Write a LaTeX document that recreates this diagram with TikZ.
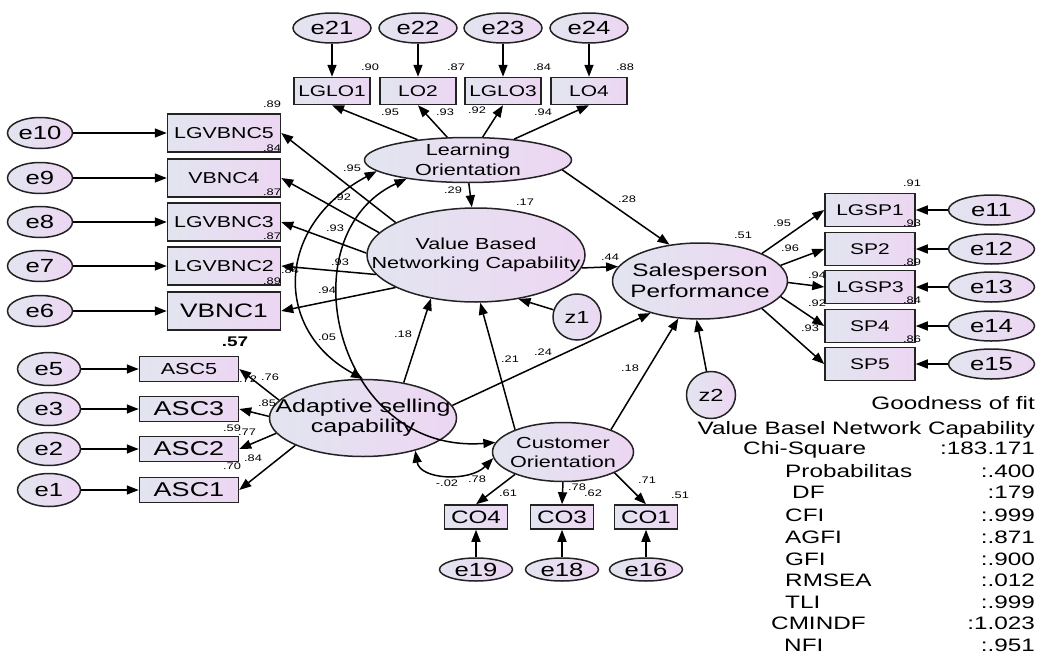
\documentclass[tikz,border=0pt]{standalone}
\usepackage{fontspec}
\setmainfont{Liberation Sans}[FakeStretch=1.35]
\usetikzlibrary{arrows.meta,shapes.geometric,positioning}
\definecolor{shadeLeft}{RGB}{226,229,239}
\definecolor{shadeRight}{RGB}{237,214,243}
\definecolor{edgeColor}{RGB}{35,35,35}
\newcommand{\fsz}[2]{\fontsize{#1}{#2}\selectfont}
\tikzset{
  latent/.style={ellipse, draw=edgeColor, line width=1.5pt, left color=shadeLeft, right color=shadeRight, inner sep=0pt},
  lattext/.style={align=center, inner sep=0pt},
  errterm/.style={ellipse, draw=edgeColor, line width=1.5pt, left color=shadeLeft, right color=shadeRight, inner sep=0pt, font=\fsz{19}{20}},
  observed/.style={rectangle, draw=edgeColor, line width=1.5pt, left color=shadeLeft, right color=shadeRight, inner sep=0pt, minimum width=76pt, minimum height=27pt, font=\fsz{15.5}{16}},
  link/.style={line width=1.5pt, ->},
  coef/.style={inner sep=0pt, font=\fsz{9.5}{10}},
  fittext/.style={inner sep=0pt, font=\fsz{18}{20}}
}

\begin{document}
\begin{tikzpicture}[x=1pt, y=-1pt, >={Triangle[length=12pt,width=9pt]}]

    \useasboundingbox (0,0) rectangle (1047,656);

    % Latent variables
    \node (lo) [latent, minimum width=207pt, minimum height=45pt] at (468,160) {};
    \node (vbnc) [latent, minimum width=218pt, minimum height=94pt] at (476,255) {};
    \node (sp) [latent, minimum width=175pt, minimum height=76pt] at (700,281) {};
    \node (asc) [latent, minimum width=187pt, minimum height=77pt] at (363,418) {};
    \node (co) [latent, minimum width=141pt, minimum height=59pt] at (563,452) {};
    \node (lotext) [lattext, font=\fsz{16}{20}] at (lo) {Learning\\Orientation};
    \node (vbnctext) [lattext, font=\fsz{16}{19}] at (vbnc) {Value Based\\Networking Capability};
    \node (sptext) [lattext, font=\fsz{18}{21}] at (sp) {Salesperson\\Performance};
    \node (asctext) [lattext, font=\fsz{18.5}{20}] at (asc) {Adaptive selling\\capability};
    \node (cotext) [lattext, font=\fsz{16}{19}] at (co) {Customer\\Orientation};
    \node (z1) [errterm, minimum width=48pt, minimum height=46pt, font=\fsz{17.5}{18}] at (577,317) {z1};
    \node (z2) [errterm, minimum width=49pt, minimum height=47pt, font=\fsz{17.5}{18}] at (711,395) {z2};

    % Learning orientation indicators
    \node (e21) [errterm, minimum width=78pt, minimum height=30pt] at (332,28) {e21};
    \node (e22) [errterm, minimum width=78pt, minimum height=30pt] at (418,28) {e22};
    \node (e23) [errterm, minimum width=78pt, minimum height=30pt] at (503,28) {e23};
    \node (e24) [errterm, minimum width=78pt, minimum height=30pt] at (589,28) {e24};
    \node (lglo1) [observed, below=33pt of e21] {LGLO1};
    \node (lo2) [observed, below=33pt of e22] {LO2};
    \node (lglo3) [observed, below=33pt of e23] {LGLO3};
    \node (lo4) [observed, below=33pt of e24] {LO4};

    % Networking capability indicators
    \node (e10) [errterm, minimum width=65pt, minimum height=31pt] at (40,133) {e10};
    \node (e9) [errterm, minimum width=65pt, minimum height=31pt] at (40,178) {e9};
    \node (e8) [errterm, minimum width=65pt, minimum height=31pt] at (40,222) {e8};
    \node (e7) [errterm, minimum width=65pt, minimum height=31pt] at (40,266) {e7};
    \node (e6) [errterm, minimum width=65pt, minimum height=31pt] at (40,311) {e6};
    \node (lgvbnc5) [observed, minimum width=113pt, minimum height=38pt, font=\fsz{15.8}{16}, right=93.5pt of e10] {LGVBNC5};
    \node (vbnc4) [observed, minimum width=113pt, minimum height=38pt, font=\fsz{15.8}{16}, right=93.5pt of e9] {VBNC4};
    \node (lgvbnc3) [observed, minimum width=113pt, minimum height=38pt, font=\fsz{15.8}{16}, right=93.5pt of e8] {LGVBNC3};
    \node (lgvbnc2) [observed, minimum width=113pt, minimum height=38pt, font=\fsz{15.8}{16}, right=93.5pt of e7] {LGVBNC2};
    \node (vbnc1) [observed, minimum width=113pt, minimum height=38pt, font=\fsz{19.5}{20}, right=93.5pt of e6] {VBNC1};

    % Adaptive selling indicators
    \node (e5) [errterm, minimum width=63pt, minimum height=33pt] at (49,369) {e5};
    \node (e3) [errterm, minimum width=63pt, minimum height=33pt] at (49,409) {e3};
    \node (e2) [errterm, minimum width=63pt, minimum height=33pt] at (49,449) {e2};
    \node (e1) [errterm, minimum width=63pt, minimum height=33pt] at (49,490) {e1};
    \node (asc5) [observed, minimum width=99pt, minimum height=25pt, font=\fsz{16}{16}, right=57.5pt of e5] {ASC5};
    \node (asc3) [observed, minimum width=99pt, minimum height=25pt, font=\fsz{20}{20}, right=57.5pt of e3] {ASC3};
    \node (asc2) [observed, minimum width=99pt, minimum height=25pt, font=\fsz{20}{20}, right=57.5pt of e2] {ASC2};
    \node (asc1) [observed, minimum width=99pt, minimum height=25pt, font=\fsz{20}{20}, right=57.5pt of e1] {ASC1};

    % Performance indicators
    \node (lgsp1) [observed, minimum width=90pt, minimum height=33pt] at (870,210) {LGSP1};
    \node (sp2) [observed, minimum width=90pt, minimum height=33pt] at (870,249) {SP2};
    \node (lgsp3) [observed, minimum width=90pt, minimum height=33pt] at (870,287) {LGSP3};
    \node (sp4) [observed, minimum width=90pt, minimum height=33pt] at (870,326) {SP4};
    \node (sp5) [observed, minimum width=90pt, minimum height=33pt] at (870,364) {SP5};
    \node (e11) [errterm, minimum width=86pt, minimum height=30pt, right=32pt of lgsp1] {e11};
    \node (e12) [errterm, minimum width=86pt, minimum height=30pt, right=32pt of sp2] {e12};
    \node (e13) [errterm, minimum width=86pt, minimum height=30pt, right=32pt of lgsp3] {e13};
    \node (e14) [errterm, minimum width=86pt, minimum height=30pt, right=32pt of sp4] {e14};
    \node (e15) [errterm, minimum width=86pt, minimum height=30pt, right=32pt of sp5] {e15};

    % Customer orientation indicators
    \node (co4) [observed, minimum width=63pt, minimum height=24pt, font=\fsz{18}{18}] at (476,517) {CO4};
    \node (co3) [observed, minimum width=63pt, minimum height=24pt, font=\fsz{18}{18}] at (562,517) {CO3};
    \node (co1) [observed, minimum width=63pt, minimum height=24pt, font=\fsz{18}{18}] at (646,517) {CO1};
    \node (e19) [errterm, minimum width=73pt, minimum height=23pt, below=27.5pt of co4] {e19};
    \node (e18) [errterm, minimum width=73pt, minimum height=23pt, below=27.5pt of co3] {e18};
    \node (e16) [errterm, minimum width=73pt, minimum height=23pt, below=27.5pt of co1] {e16};

    % Connectors
    \foreach \a/\b in {e21/lglo1, e22/lo2, e23/lglo3, e24/lo4, e10/lgvbnc5, e9/vbnc4, e8/lgvbnc3, e7/lgvbnc2, e6/vbnc1,
                       e5/asc5, e3/asc3, e2/asc2, e1/asc1, e11/lgsp1, e12/sp2, e13/lgsp3, e14/sp4, e15/sp5,
                       e19/co4, e18/co3, e16/co1}
        \draw [link] (\a) -- (\b);

    \foreach \b in {lglo1, lo2, lglo3, lo4}
        \draw [link] (lo) -- (\b.south);
    \foreach \b/\ang in {lgvbnc5/158, vbnc4/167, lgvbnc3/179, lgvbnc2/191, vbnc1/202}
        \draw [link] (vbnc.\ang) -- (\b.east);
    \foreach \b/\ang in {asc5/168, asc3/179, asc2/190, asc1/202}
        \draw [link] (asc.\ang) -- (\b.east);
    \foreach \b/\ang in {lgsp1/24, sp2/11, lgsp3/359, sp4/349, sp5/336}
        \draw [link] (sp.\ang) -- (\b.west);
    \draw [link] (co.205) -- (co4.north);
    \draw [link] (co.270) -- (co3.north);
    \draw [link] (co.338) -- (co1.north);

    \draw [link] (lo.272) -- (vbnc.95);
    \draw [link] (lo.354) -- (sp.130);
    \draw [link] (vbnc.353) -- (sp.170);
    \draw [link] (asc.41) -- (vbnc.224);
    \draw [link] (asc.8) -- (sp.213);
    \draw [link] (co.155) -- (vbnc.275);
    \draw [link] (co.25) -- (sp.240);
    \draw [link] (z1) -- (vbnc.314);
    \draw [link] (z2) -- (sp.265);

    % Covariances
    \draw [link, <->] (lo.187) .. controls (274,226) and (274,331) .. (asc.north);
    \draw [link, <->] (lo.197) .. controls (285,235) and (335,455) .. (co.172);
    \draw [link, <->] (asc.328) .. controls (420,480) and (470,482) .. (co.185);

    % Estimates
    \foreach \x/\y/\t [count=\i] in {370/67/.90, 456/67/.87, 542/67/.84, 625/67/.88,
            390/112/.95, 445/112/.93, 477/110/.92, 543/112/.94,
            272/104/.89, 272/148/.84, 272/192/.87, 272/236/.87, 272/281/.89,
            352/168/.95, 342/197/.92, 335/228/.93, 340/262/.93, 327/290/.94, 290/270/.84, 327/337/.05,
            453/190/.29, 525/202/.17, 627/199/.28, 610/257/.44, 743/235/.51,
            403/334/.18, 510/359/.21, 543/352/.24, 630/368/.18,
            248/379/.72, 270/377/.76, 267/403/.85, 232/428/.59, 247/432/.77, 232/466/.70, 253/458/.84,
            447/483/-.02, 477/479/.78, 508/493/.61, 577/487/.78, 593/493/.62, 647/480/.71, 680/495/.51,
            912/183/.91, 912/223/.93, 912/262/.89, 912/300/.84, 912/339/.86,
            782/223/.95, 790/248/.96, 817/275/.94, 817/303/.92, 810/328/.93}
        \node (est\i) [coef] at (\x,\y) {\t};
    \node (r57) [coef, font=\bfseries\fsz{14}{15}] at (235,342) {.57};

    % Goodness of fit
    \node (fittitle) [fittext, anchor=base east] at (1035,409.5) {Goodness of fit};
    \node (fitmodel) [fittext, anchor=base east] at (1035,434.5) {Value Basel Network Capability};
    \foreach \y/\lx/\name/\val [count=\i] in {448/743/Chi-Square/:183.171, 471/785/Probabilitas/:.400,
            492/792/DF/:179, 515/785/CFI/:.999, 537/785/AGFI/:.871, 559/785/GFI/:.900,
            580/785/RMSEA/:.012, 602/785/TLI/:.999, 623/771/CMINDF/:1.023, 645/784/NFI/:.951}
    {
        \node (fitname\i) [fittext, anchor=base west] at (\lx,\y+6.5) {\name};
        \node (fitval\i) [fittext, anchor=base east] at (1035,\y+6.5) {\val};
    }

\end{tikzpicture}
\end{document}
